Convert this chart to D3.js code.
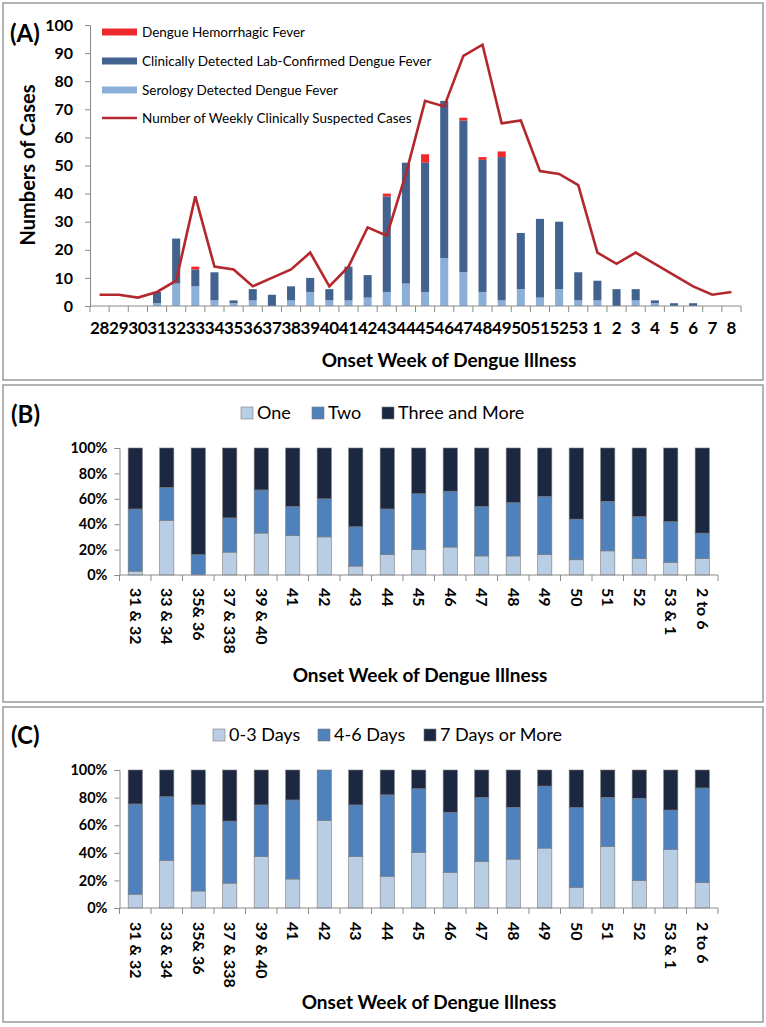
<!DOCTYPE html>
<html><head><meta charset="utf-8">
<script src="https://cdn.jsdelivr.net/npm/d3@7"></script>
<style>
html,body{margin:0;padding:0;background:#fff;}
svg{display:block;}
text{font-family:Lato,"Open Sans",sans-serif;fill:#000;}
</style></head>
<body>
<svg id="c" width="766" height="1027"></svg>
<script>
// ---------- Panel A data ----------
const weeks = ["28","29","30","31","32","33","34","35","36","37","38","39","40","41","42","43","44","45","46","47","48","49","50","51","52","53","1","2","3","4","5","6","7","8"];
const serology = [0,0,0,1,8,7,2,1,2,0,2,5,2,2,3,5,8,5,17,12,5,2,6,3,6,2,2,0,2,1,0,0,0,0];
const clinical = [0,0,0,4,16,6,10,1,4,4,5,5,4,12,8,34,43,46,56,54,47,51,20,28,24,10,7,6,4,1,1,1,0,0];
const dhf      = [0,0,0,0,0,1,0,0,0,0,0,0,0,0,0,1,0,3,0,1,1,2,0,0,0,0,0,0,0,0,0,0,0,0];
const suspected = [4,4,3,5,9,39,14,13,7,10,13,19,7,14,28,25,47,73,71,89,93,65,66,48,47,43,19,15,19,15,11,7,4,5];
const seriesA = ["Dengue Hemorrhagic Fever","Clinically Detected Lab-Confirmed Dengue Fever","Serology Detected Dengue Fever","Number of Weekly Clinically Suspected Cases"];
const yTicksA = [0,10,20,30,40,50,60,70,80,90,100];

// ---------- Panel B / C data ----------
const groups = ["31 & 32","33 & 34","35& 36","37 & 338","39 & 40","41","42","43","44","45","46","47","48","49","50","51","52","53 & 1","2 to 6"];
const seriesB = ["One","Two","Three and More"];
const oneB   = [3,43,0,18,33,31,30,7,16,20,22,15,15,16,12,19,13,10,13];
const twoB   = [49,26,16,27,34,23,30,31,36,44,44,39,42,46,32,39,33,32,20];
const threeB = [48,31,84,55,33,46,40,62,48,36,34,46,43,38,56,42,54,58,67];
const seriesC = ["0-3 Days","4-6 Days","7 Days or More"];
const d03 = [10,34.5,12.3,18,37.3,21,63.4,37.3,23,40.2,25.8,33.7,35.4,43.4,15,44.6,19.8,42.4,18.5];
const d46 = [65.4,46.2,62.4,45,37.4,57.3,36.6,37.4,59,46.3,43.6,46.5,37.6,45,57.8,35.6,59.7,28.6,68.5];
const d7p = [24.6,19.3,25.3,37,25.3,21.7,0,25.3,18,13.5,30.6,19.8,27,11.6,27.2,19.8,20.5,29,13];
const pctTicks = [0,20,40,60,80,100];
const xTitle = "Onset Week of Dengue Illness";

const svg = d3.select("#c");
const axisGray = "#8a8a8a";

// panel frames
[[3,3,760,377],[3,385,760,317],[3,707,760,315]].forEach(r=>{
  svg.append("rect").attr("x",r[0]).attr("y",r[1]).attr("width",r[2]).attr("height",r[3])
    .attr("fill","#fff").attr("stroke","#9a9a9a").attr("stroke-width",1.5);
});

// ================= Panel A =================
(function(){
  const x = d3.scaleBand().domain(weeks).range([90,741]).paddingInner(0.58).paddingOuter(0.29);
  const xc = d3.scalePoint().domain(weeks).range([90,741]).padding(0.5);
  const y = d3.scaleLinear().domain([0,100]).range([306,25]);
  const g = svg.append("g");
  const rows = weeks.map((w,i)=>({w, serology:serology[i], clinical:clinical[i], dhf:dhf[i]}));
  const stack = d3.stack().keys(["serology","clinical","dhf"])(rows);
  const colors = {serology:"#8cafd7", clinical:"#42628f", dhf:"#ee2a2c"};
  stack.forEach(s=>{
    g.append("g").attr("fill",colors[s.key]).selectAll("rect").data(s).join("rect")
      .attr("x",d=>x(d.data.w)).attr("width",x.bandwidth())
      .attr("y",d=>y(d[1])).attr("height",d=>Math.max(0,y(d[0])-y(d[1])));
  });
  // line
  g.append("path").datum(suspected)
    .attr("d", d3.line().x((d,i)=>xc(weeks[i])).y(d=>y(d)))
    .attr("fill","none").attr("stroke","#b3282d").attr("stroke-width",2.6).attr("stroke-linejoin","miter");
  // y axis
  const ya = g.append("g").attr("transform","translate(90,0)")
    .call(d3.axisLeft(y).tickValues(yTicksA).tickSize(5).tickPadding(12));
  ya.select(".domain").attr("stroke",axisGray);
  ya.selectAll(".tick line").attr("stroke",axisGray);
  ya.selectAll("text").attr("font-size",16).attr("font-weight","bold").attr("font-family","Lato");
  // x axis: line, ticks at boundaries
  g.append("line").attr("x1",90).attr("x2",741).attr("y1",306).attr("y2",306).attr("stroke",axisGray);
  const step = xc.step();
  g.selectAll(".xt").data(d3.range(weeks.length+1)).join("line")
    .attr("x1",i=>90+i*step).attr("x2",i=>90+i*step).attr("y1",306).attr("y2",312).attr("stroke",axisGray);
  g.selectAll(".xl").data(weeks).join("text")
    .attr("x",d=>xc(d)).attr("y",334).attr("text-anchor","middle")
    .attr("font-size",17).attr("font-weight","bold").attr("letter-spacing",-0.2).text(d=>d);
  g.append("text").attr("x",449).attr("y",367).attr("text-anchor","middle")
    .attr("font-size",19).attr("font-weight","bold").text(xTitle);
  g.append("text").attr("transform","translate(35,165) rotate(-90)").attr("text-anchor","middle")
    .attr("font-size",20).attr("font-weight","bold").text("Numbers of Cases");
  g.append("text").attr("x",10).attr("y",42).attr("font-size",24).attr("font-weight","bold").text("(A)");
  // legend
  const leg = g.append("g");
  const ly = [32,61,90,118];
  const lcol = ["#ee2a2c","#42628f","#8cafd7"];
  seriesA.forEach((s,i)=>{
    if(i<3){
      leg.append("rect").attr("x",102).attr("y",ly[i]-3.5).attr("width",35).attr("height",7).attr("fill",lcol[i]);
    } else {
      leg.append("line").attr("x1",102).attr("x2",137).attr("y1",ly[i]).attr("y2",ly[i]).attr("stroke","#b3282d").attr("stroke-width",2.6);
    }
    leg.append("text").attr("x",142).attr("y",ly[i]+4.5).attr("font-size",13.5).text(s);
  });
})();

// ================= Panels B & C =================
function pctPanel(opts){
  const {top, bottom, labelY, titleY, panelLabel, labelPanelY, series, vals, legX, legY, colors} = opts;
  const x0 = 119.5, x1 = 718;
  const x = d3.scaleBand().domain(groups).range([x0,x1]).paddingInner(0.55).paddingOuter(0.275);
  const xc = d3.scalePoint().domain(groups).range([x0,x1]).padding(0.5);
  const y = d3.scaleLinear().domain([0,100]).range([bottom,top]);
  const g = svg.append("g");
  const rows = groups.map((gname,i)=>{const o={g:gname}; series.forEach((s,k)=>o[s]=vals[k][i]); return o;});
  const stack = d3.stack().keys(series)(rows);
  stack.forEach((s,k)=>{
    g.append("g").attr("fill",colors[k]).attr("stroke","#7a7a7a").attr("stroke-width",0.6)
      .selectAll("rect").data(s).join("rect")
      .attr("x",d=>x(d.data.g)).attr("width",x.bandwidth())
      .attr("y",d=>y(d[1])).attr("height",d=>Math.max(0,y(d[0])-y(d[1])));
  });
  const ya = g.append("g").attr("transform",`translate(${x0},0)`)
    .call(d3.axisLeft(y).tickValues(pctTicks).tickSize(5).tickPadding(7).tickFormat(d=>d+"%"));
  ya.select(".domain").attr("stroke",axisGray);
  ya.selectAll(".tick line").attr("stroke",axisGray);
  ya.selectAll("text").attr("font-size",14.5).attr("font-weight","bold").attr("font-family","Lato");
  g.append("line").attr("x1",x0).attr("x2",x1).attr("y1",bottom).attr("y2",bottom).attr("stroke",axisGray);
  const step = xc.step();
  g.selectAll(".xt").data(d3.range(groups.length+1)).join("line")
    .attr("x1",i=>x0+i*step).attr("x2",i=>x0+i*step).attr("y1",bottom).attr("y2",bottom+6).attr("stroke",axisGray);
  g.selectAll(".xl").data(groups).join("text")
    .attr("transform",d=>`translate(${xc(d)-5.5},${labelY}) rotate(90)`)
    .attr("text-anchor","start").attr("font-size",16).attr("font-weight","bold").text(d=>d);
  g.append("text").attr("x",opts.titleX).attr("y",titleY).attr("text-anchor","middle")
    .attr("font-size",19).attr("font-weight","bold").text(xTitle);
  g.append("text").attr("x",11).attr("y",labelPanelY).attr("font-size",24).attr("font-weight","bold").text(panelLabel);
  series.forEach((s,k)=>{
    g.append("rect").attr("x",legX[k]).attr("y",legY-6).attr("width",12).attr("height",12)
      .attr("fill",colors[k]).attr("stroke","#7a7a7a").attr("stroke-width",0.6);
    g.append("text").attr("x",legX[k]+16).attr("y",legY+6).attr("font-size",18).text(s);
  });
}

pctPanel({top:448,bottom:575,labelY:588,titleY:682,titleX:420,panelLabel:"(B)",labelPanelY:423,
  series:seriesB, vals:[oneB,twoB,threeB], legX:[241,312,382], legY:413,
  colors:["#b9cde5","#4f81bd","#1c2742"]});
pctPanel({top:770,bottom:908,labelY:922,titleY:1009,titleX:429,panelLabel:"(C)",labelPanelY:744,
  series:seriesC, vals:[d03,d46,d7p], legX:[213,318,424], legY:735,
  colors:["#b9cde5","#4f81bd","#1c2742"]});
</script>
</body></html>
